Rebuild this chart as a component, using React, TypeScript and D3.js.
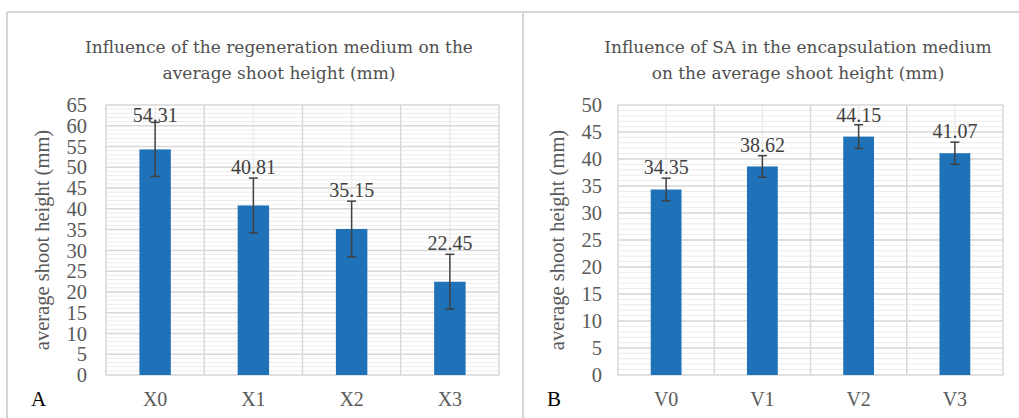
import * as d3 from "d3";

// panel A: regeneration medium
const TITLE_A = ["Influence of the regeneration medium on the", "average shoot height (mm)"];
const CATS_A = ["X0", "X1", "X2", "X3"];
const VALUES_A = [54.31, 40.81, 35.15, 22.45];
const ERRORS_A = [6.5, 6.6, 6.7, 6.6];
const YMAX_A = 65;

// panel B: SA in the encapsulation medium
const TITLE_B = ["Influence of SA in the encapsulation medium", "on the average shoot height (mm)"];
const CATS_B = ["V0", "V1", "V2", "V3"];
const VALUES_B = [34.35, 38.62, 44.15, 41.07];
const ERRORS_B = [2.1, 2.0, 2.2, 2.05];
const YMAX_B = 50;

const Y_LABEL = "average shoot height (mm)";
const BAR_COLOR = "#1f72b8";
const TEXT_GRAY = "#595959";
const GRID_MAJOR = "#d9d9d9";
const GRID_MINOR = "#ececec";
const AXIS_FONT = "'Liberation Serif', 'Times New Roman', serif";
const TITLE_FONT = "'DejaVu Serif', serif";

function Panel(props) {
  const { cats, values, errors, ymax, title, letter, left, right, top, bottom, tickX, labelX, titleX, letterX } = props;

  const x = d3.scaleBand().domain(cats).range([left, right]).padding(0);
  const y = d3.scaleLinear().domain([0, ymax]).range([bottom, top]);
  const barW = x.bandwidth() * 0.32;
  const minor = d3.range(0, ymax + 1, 1);
  const major = y.ticks(ymax / 5);

  return (
    <g>
      {minor.map((t) => (
        <line key={"m" + t} x1={left} x2={right} y1={y(t)} y2={y(t)} stroke={GRID_MINOR} strokeWidth={1} />
      ))}
      {cats.map((c) => (
        <line key={"vc" + c} x1={x(c) + x.bandwidth() / 2} x2={x(c) + x.bandwidth() / 2} y1={top} y2={bottom} stroke={GRID_MINOR} strokeWidth={1.5} />
      ))}
      {major.map((t) => (
        <line key={"M" + t} x1={left} x2={right} y1={y(t)} y2={y(t)} stroke={GRID_MAJOR} strokeWidth={1.5} />
      ))}
      {[...cats.map((c) => x(c)), right].map((px, i) => (
        <line key={"vb" + i} x1={px} x2={px} y1={top} y2={bottom} stroke={GRID_MAJOR} strokeWidth={1.5} />
      ))}
      {major.map((t) => (
        <text key={"t" + t} x={tickX} y={y(t)} dy="0.35em" textAnchor="end" fontSize={20.5} fill={TEXT_GRAY} fontFamily={AXIS_FONT}>
          {t}
        </text>
      ))}
      {cats.map((c, i) => {
        const cx = x(c) + x.bandwidth() / 2;
        const hi = y(values[i] + errors[i]);
        const lo = y(values[i] - errors[i]);
        const labelY = Math.max(hi - 4, top + 17);
        return (
          <g key={c}>
            <rect x={cx - barW / 2} y={y(values[i])} width={barW} height={bottom - y(values[i])} fill={BAR_COLOR} />
            <line x1={cx} x2={cx} y1={hi} y2={lo} stroke="#404040" strokeWidth={1.5} />
            <line x1={cx - 4.5} x2={cx + 4.5} y1={hi} y2={hi} stroke="#404040" strokeWidth={1.5} />
            <line x1={cx - 4.5} x2={cx + 4.5} y1={lo} y2={lo} stroke="#404040" strokeWidth={1.5} />
            <text x={cx} y={labelY} textAnchor="middle" fontSize={20} fill="#404040" fontFamily={AXIS_FONT}>
              {values[i].toFixed(2)}
            </text>
            <text x={cx} y={406} textAnchor="middle" fontSize={20} fill={TEXT_GRAY} fontFamily={AXIS_FONT}>
              {c}
            </text>
          </g>
        );
      })}
      <text
        transform={`translate(${labelX},${(top + bottom) / 2}) rotate(-90)`}
        dy="0.35em"
        textAnchor="middle"
        fontSize={20.5}
        fill={TEXT_GRAY}
        fontFamily={AXIS_FONT}
      >
        {Y_LABEL}
      </text>
      {title.map((line, i) => (
        <text key={i} x={titleX} y={53 + i * 26} textAnchor="middle" fontSize={17} fill="#505050" fontFamily={TITLE_FONT}>
          {line}
        </text>
      ))}
      <text x={letterX} y={406} fontSize={21} fill="#000" fontFamily={AXIS_FONT}>
        {letter}
      </text>
    </g>
  );
}

export default function App() {
  return (
    <svg width={1019} height={418} style={{ position: "absolute", left: 0, top: 0, background: "#fff" }}>
      <rect width={1019} height={418} fill="#fff" />
      <line x1={7} x2={1019} y1={12} y2={12} stroke="#d6d6d6" strokeWidth={2} />
      <line x1={7} x2={7} y1={12} y2={418} stroke="#d6d6d6" strokeWidth={2} />
      <line x1={523} x2={523} y1={12} y2={418} stroke="#d6d6d6" strokeWidth={2} />
      <Panel
        cats={CATS_A}
        values={VALUES_A}
        errors={ERRORS_A}
        ymax={YMAX_A}
        title={TITLE_A}
        letter="A"
        left={106}
        right={499}
        top={105}
        bottom={375}
        tickX={87}
        labelX={42}
        titleX={279}
        letterX={31}
      />
      <Panel
        cats={CATS_B}
        values={VALUES_B}
        errors={ERRORS_B}
        ymax={YMAX_B}
        title={TITLE_B}
        letter="B"
        left={618}
        right={1003}
        top={105}
        bottom={375}
        tickX={602}
        labelX={557}
        titleX={798}
        letterX={547}
      />
    </svg>
  );
}
